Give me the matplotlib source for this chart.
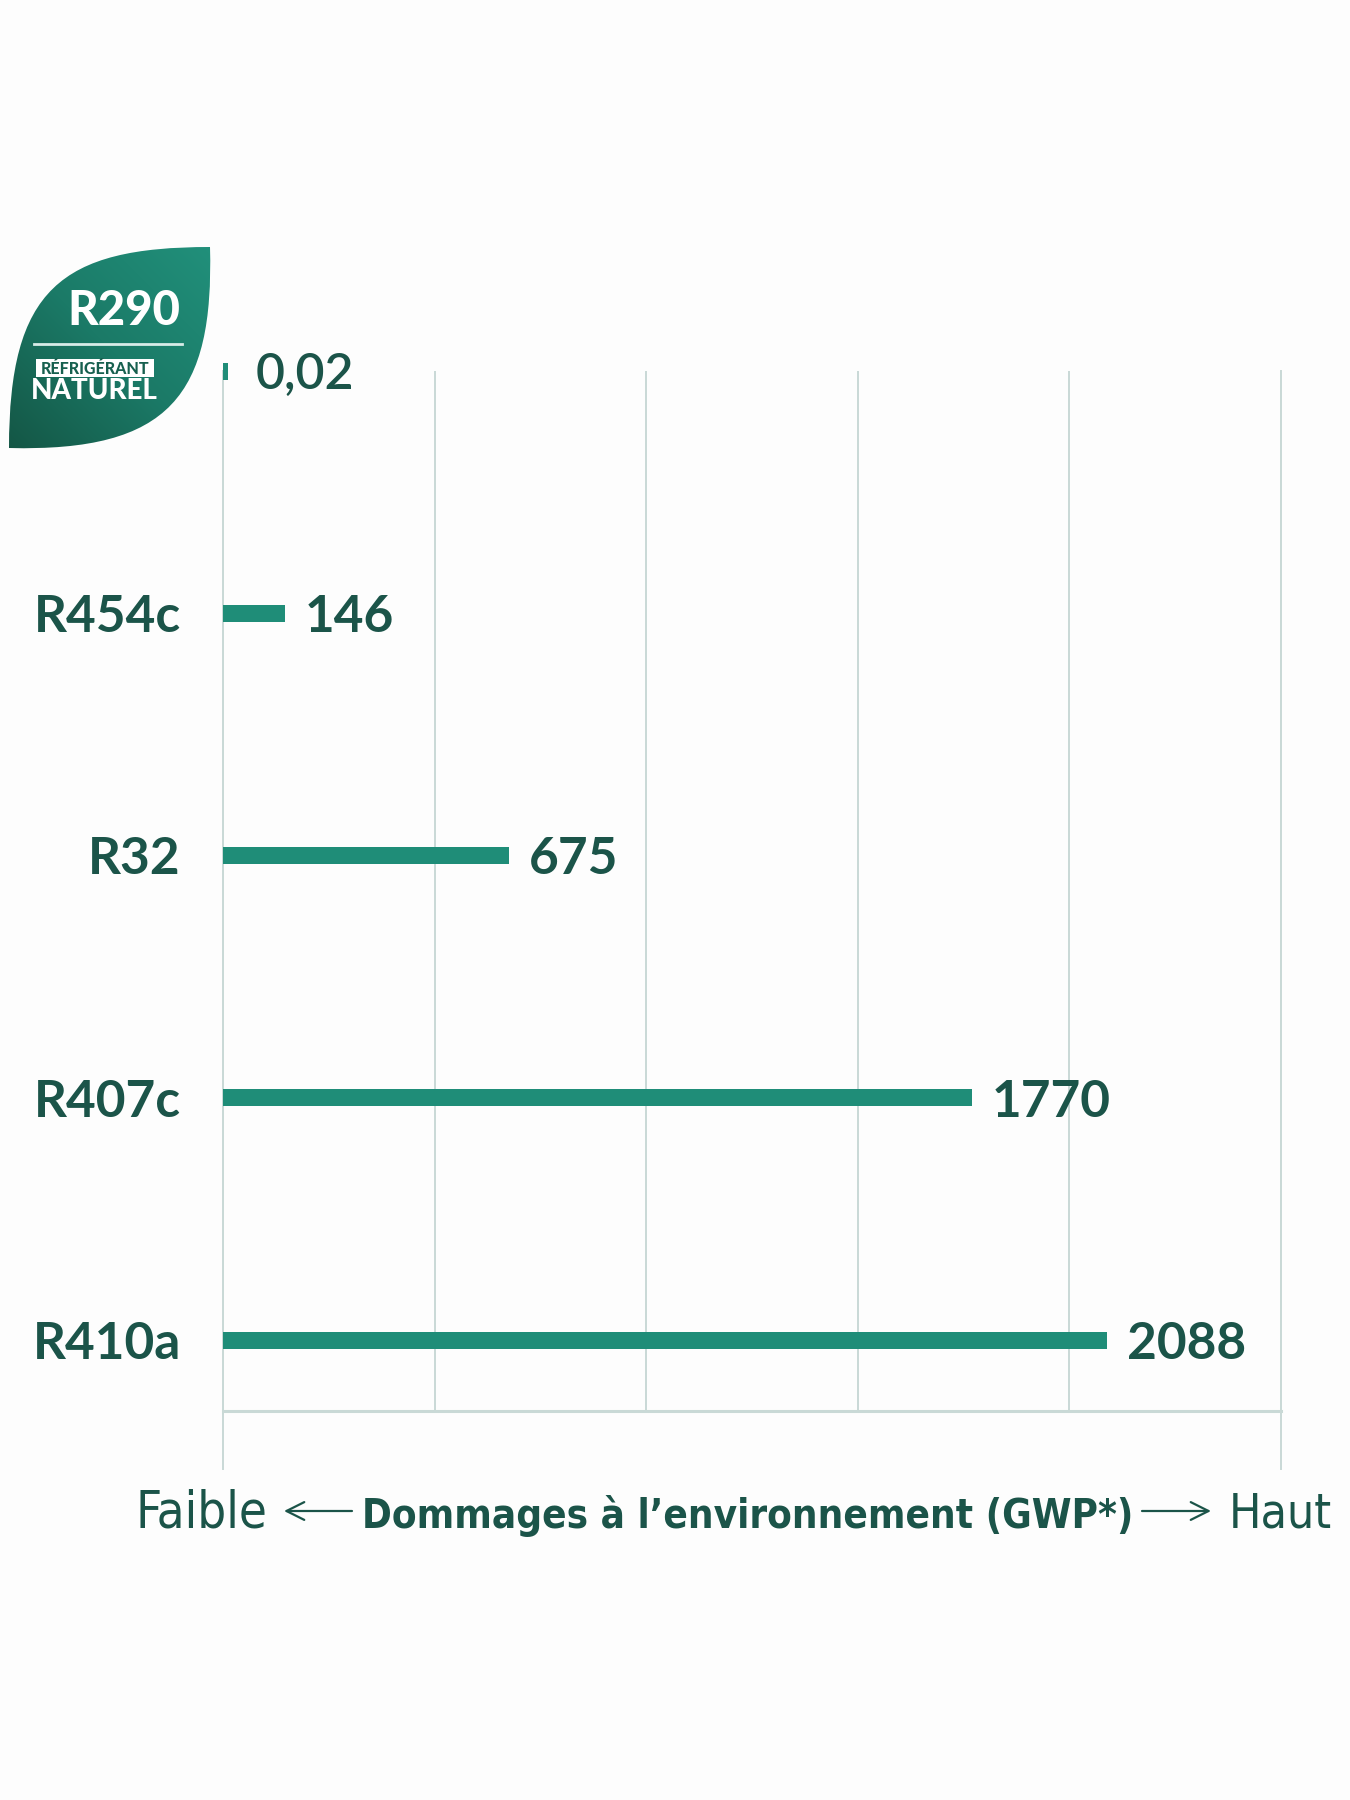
import matplotlib
matplotlib.use("Agg")
import matplotlib.pyplot as plt
import numpy as np
from matplotlib.path import Path
from matplotlib.patches import PathPatch, Rectangle
from matplotlib.colors import LinearSegmentedColormap
from matplotlib import font_manager

# ---- data ----
categories = ["R290", "R454c", "R32", "R407c", "R410a"]
gwp_values = [0.02, 146, 675, 1770, 2088]
value_labels = ["0,02", "146", "675", "1770", "2088"]
x_ticks = [0, 500, 1000, 1500, 2000, 2500]

W, H = 1350, 1800
DPI = 100
BAR = "#1f8d78"
DARK = "#1b5449"
GRID = "#c9d9d6"
BG = "#fdfdfd"

flist = font_manager.fontManager.ttflist
names = {f.name for f in flist}
MAIN_FONT = "Lato" if "Lato" in names else "DejaVu Sans"
if any(f.name == "DejaVu Sans" and "condensed" in str(f.stretch) for f in flist):
    NARROW, STRETCH = "DejaVu Sans", "condensed"
elif "Roboto" in names:
    NARROW, STRETCH = "Roboto", "normal"
else:
    NARROW, STRETCH = "DejaVu Sans", "normal"

fig = plt.figure(figsize=(W / DPI, H / DPI), dpi=DPI, facecolor=BG)

def fx(x):
    return x / W

def fy(y):
    return 1 - y / H

# main axes: x 0..2500 -> px 223..1281 ; y index 0 at px 371, bottom px 1411
left, right = 223, 1281
top, bottom = 371, 1411
ax = fig.add_axes([fx(left), fy(bottom), (right - left) / W, (bottom - top) / H])
ax.set_facecolor("none")
step = (1340 - 371) / 4.0
ax.set_xlim(0, 2500)
ax.set_ylim((bottom - top) / step, 0)

for s in ["top", "left", "right"]:
    ax.spines[s].set_visible(False)
ax.spines["bottom"].set_color(GRID)
ax.spines["bottom"].set_linewidth(2.2)
ax.set_xticks(x_ticks)
ax.set_yticks([])
ax.tick_params(axis="x", length=0, labelbottom=False)
ax.xaxis.grid(True, color=GRID, linewidth=1.4)
ax.set_axisbelow(True)

# outer gridlines extend below the axis
ext = -(1469 - bottom) / (bottom - top)
for xv in (x_ticks[0], x_ticks[-1]):
    ax.axvline(xv, ymin=ext, ymax=1, color=GRID, linewidth=1.4, clip_on=False, zorder=0)

MIN_VIS = 12
ypos = np.arange(len(categories))
widths = [max(v, MIN_VIS) for v in gwp_values]
ax.barh(ypos, widths, height=17 / step, color=BAR, clip_on=False, zorder=3)

for i, (w, lab) in enumerate(zip(widths, value_labels)):
    ax.annotate(lab, xy=(w, i), xytext=(20 if i else 28, 0), textcoords="offset pixels",
                ha="left", va="center_baseline", fontsize=37 if i else 36, color=DARK,
                fontweight="semibold" if i == 0 else "bold", family=MAIN_FONT,
                annotation_clip=False)

for i, cat in enumerate(categories[1:], start=1):
    ax.annotate(cat, xy=(0, i), xytext=(-42, 0), textcoords="offset pixels",
                ha="right", va="center_baseline", fontsize=37, color=DARK,
                fontweight="bold", family=MAIN_FONT, annotation_clip=False)

# ---- overlay in pixel coordinates ----
ov = fig.add_axes([0, 0, 1, 1])
ov.set_xlim(0, W)
ov.set_ylim(H, 0)
ov.axis("off")
ov.set_facecolor("none")

# leaf badge
verts = [(210, 247), (60, 247), (9, 290), (9, 448),
         (170, 452), (214, 395), (210, 247), (210, 247)]
codes = [Path.MOVETO, Path.CURVE4, Path.CURVE4, Path.CURVE4,
         Path.CURVE4, Path.CURVE4, Path.CURVE4, Path.CLOSEPOLY]
leaf = PathPatch(Path(verts, codes), facecolor="none", edgecolor="none")
ov.add_patch(leaf)
gx, gy = np.meshgrid(np.linspace(0, 1, 200), np.linspace(0, 1, 200))
grad = (gx + (1 - gy)) / 2.0  # 1 at top-right
cmap = LinearSegmentedColormap.from_list("leaf", ["#145645", "#1b7a67", "#21907b"])
im = ov.imshow(grad, extent=(9, 214, 452, 247), cmap=cmap, origin="upper",
               interpolation="bilinear", zorder=2)
im.set_clip_path(leaf)

ov.text(124, 311, "R290", ha="center", va="center", fontsize=34, fontweight="black",
        color="white", family=MAIN_FONT, zorder=3)
ov.plot([34, 182], [344, 344], color="#d8ece8", linewidth=2, zorder=3)
ov.add_patch(Rectangle((36, 359), 118, 18, facecolor="white", edgecolor="none", zorder=3))
ov.text(95, 368.5, "RÉFRIGÉRANT", ha="center", va="center", fontsize=11.5, fontweight="black",
        color="#17604f", family=MAIN_FONT, zorder=4)
ov.text(94, 391, "NATUREL", ha="center", va="center", fontsize=20, fontweight="black",
        color="white", family=MAIN_FONT, zorder=3)

# bottom axis caption
base = 1528
t1 = ov.text(135, base, "Faible", ha="left", va="baseline", fontsize=38, color=DARK,
             family=NARROW, stretch=STRETCH)
t2 = ov.text(748, base, "Dommages à l’environnement (GWP*)", ha="center", va="baseline",
             fontsize=34, fontweight="bold", color=DARK, family=NARROW, stretch=STRETCH)
t3 = ov.text(1332, base, "Haut", ha="right", va="baseline", fontsize=38, color=DARK,
             family=NARROW, stretch=STRETCH)
arr = dict(arrowstyle="->", color=DARK, lw=1.6, mutation_scale=32, shrinkA=0, shrinkB=0)
ov.annotate("", xy=(284, 1511), xytext=(352, 1511), arrowprops=arr)
ov.annotate("", xy=(1211, 1511), xytext=(1142, 1511), arrowprops=arr)

# fit caption pieces to the widths they take in the design
fig.canvas.draw()
r = fig.canvas.get_renderer()
for t, target in ((t1, 132), (t2, 773), (t3, 103)):
    wpx = t.get_window_extent(r).width
    t.set_fontsize(min(t.get_fontsize() * target / wpx, 40))

fig.savefig("out.png", dpi=DPI, facecolor=BG)
